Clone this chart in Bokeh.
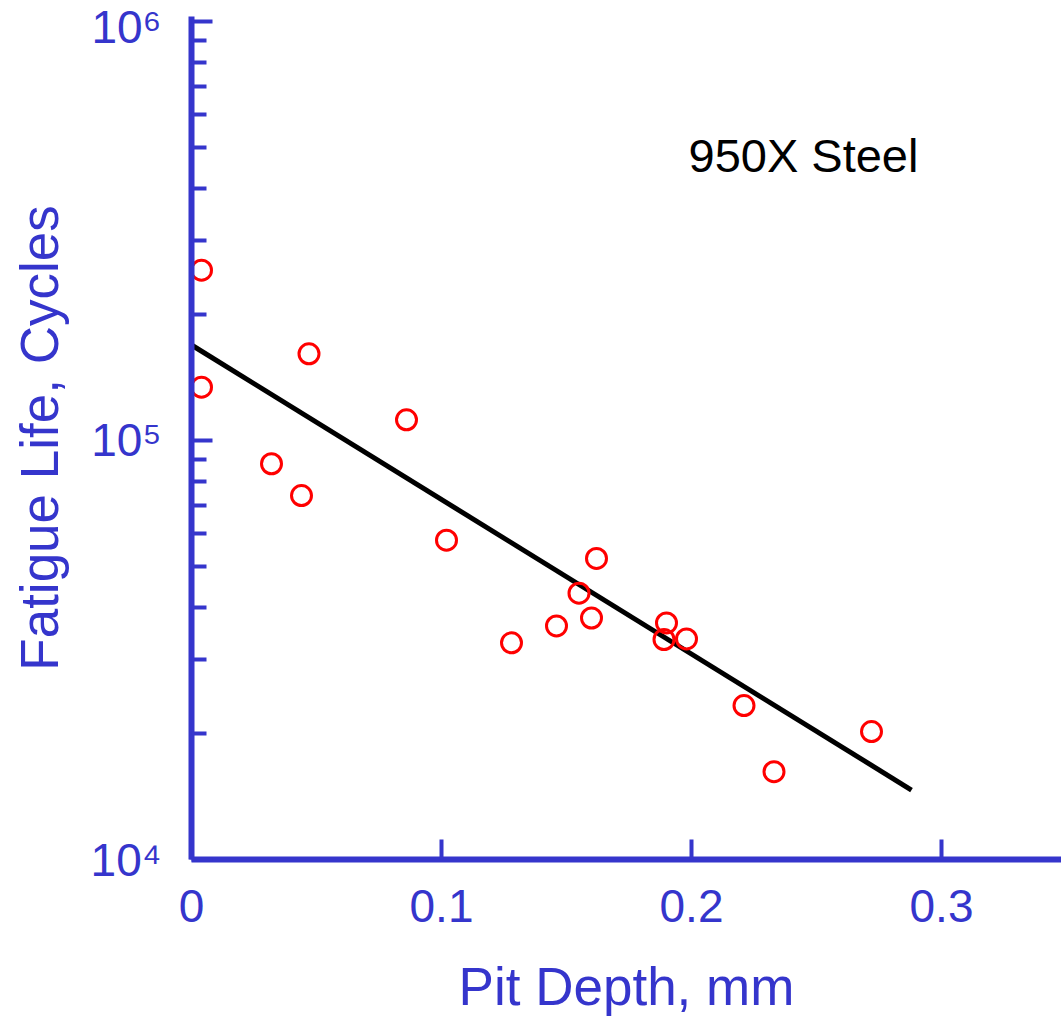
from bokeh.plotting import figure
from bokeh.models import FixedTicker, Range1d, Label
from bokeh.embed import file_html
from bokeh.resources import INLINE

# ---- data ----
pit_depth = [0.004, 0.004, 0.032, 0.044, 0.047, 0.086, 0.102, 0.128, 0.146,
             0.155, 0.160, 0.162, 0.189, 0.190, 0.198, 0.221, 0.233, 0.272]
fatigue_life = [255000, 134000, 88000, 73900, 161000, 112000, 57800, 32900, 36100,
                43200, 37700, 52300, 33500, 36700, 33600, 23300, 16200, 20200]
fit_x = [0.0, 0.288]
fit_y = [169000, 14650]
x_ticks = [0.0, 0.1, 0.2, 0.3]
x_labels = ["0", "0.1", "0.2", "0.3"]
y_ticks = [1e4, 1e5, 1e6]
y_labels = ["10\u2074", "10\u2075", "10\u2076"]
y_minor = [m * 10 ** k for k in (4, 5) for m in range(2, 10)]
x_title = "Pit Depth, mm"
y_title = "Fatigue Life, Cycles"
note_text = "950X Steel"

BLUE = "#3535cc"
FONT = "Liberation Sans"

p = figure(width=1061, height=1018, y_axis_type="log",
           x_range=Range1d(0, 0.348), y_range=Range1d(1e4, 1.0277e6),
           output_backend="svg", toolbar_location=None,
           min_border_left=191, min_border_right=0,
           min_border_top=16, min_border_bottom=154,
           background_fill_color="white", border_fill_color="white")
p.outline_line_color = None
p.grid.visible = False

p.line(fit_x, fit_y, line_color="black", line_width=5)
p.scatter(pit_depth, fatigue_life, marker="circle", size=20,
          fill_color=None, line_color="red", line_width=3)

for ax in (p.xaxis[0], p.yaxis[0]):
    ax.axis_line_color = BLUE
    ax.axis_line_width = 6
    ax.major_tick_line_color = BLUE
    ax.major_tick_line_width = 4
    ax.minor_tick_line_color = BLUE
    ax.minor_tick_line_width = 4
    ax.major_tick_out = 0
    ax.minor_tick_out = 0
    ax.major_label_text_color = BLUE
    ax.major_label_text_font = FONT
    ax.major_label_text_font_size = "46px"
    ax.axis_label_text_color = BLUE
    ax.axis_label_text_font = FONT
    ax.axis_label_text_font_size = "53px"
    ax.axis_label_text_font_style = "normal"

xa = p.xaxis[0]
xa.ticker = FixedTicker(ticks=x_ticks, minor_ticks=[])
xa.major_label_overrides = {t: l for t, l in zip(x_ticks, x_labels)}
xa.major_tick_in = 20
xa.minor_tick_in = 0
xa.major_label_standoff = 30
xa.axis_label = x_title
xa.axis_label_standoff = 32

ya = p.yaxis[0]
ya.ticker = FixedTicker(ticks=y_ticks, minor_ticks=y_minor)
ya.major_label_overrides = {t: l for t, l in zip(y_ticks, y_labels)}
ya.major_tick_in = 21
ya.minor_tick_in = 15
ya.major_label_standoff = 30
ya.axis_label = y_title
ya.axis_label_standoff = 19

p.add_layout(Label(x=0.1988, y=478000, text=note_text, text_font=FONT,
                   text_font_size="47px", text_color="black",
                   text_baseline="alphabetic"))

open("out.html", "w").write(file_html(p, INLINE))
